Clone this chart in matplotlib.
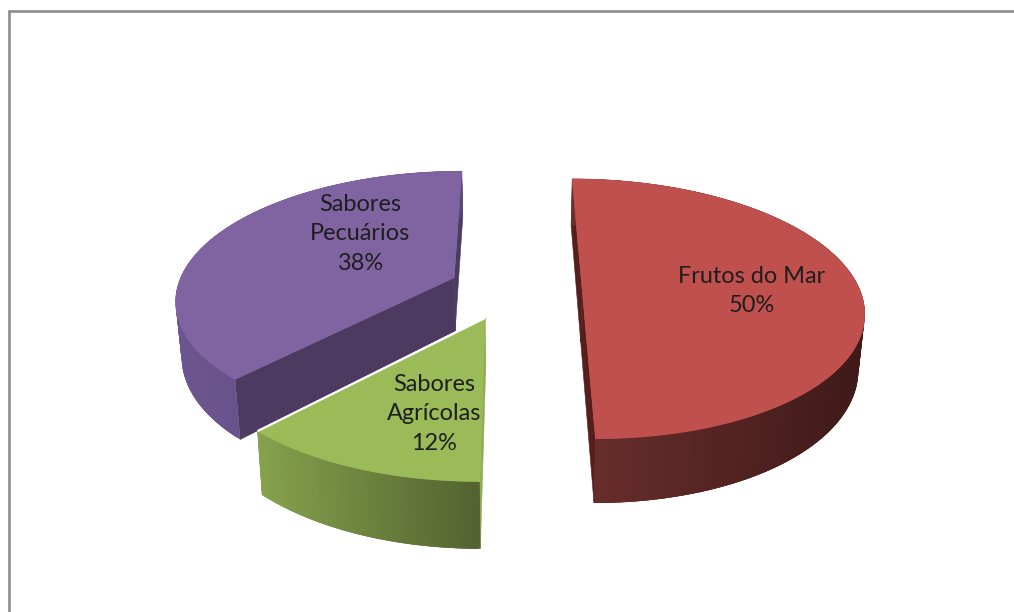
import numpy as np
import matplotlib
matplotlib.use("Agg")
import matplotlib.pyplot as plt
from matplotlib.patches import Polygon
from matplotlib.colors import to_rgb

categories = ["Frutos do Mar", "Sabores\nAgrícolas", "Sabores\nPecuários"]
values = [50, 12, 38]

top_colors = ["#C0504D", "#9BBB59", "#8064A2"]
rim_left = ["#6B2F2D", "#86A24D", "#6D5690"]
rim_right = ["#3F1A18", "#53622F", "#5A4676"]
cut_colors = ["#561F1E", "#8FAC52", "#4D3A60"]
explode = [71, 68, 62]
label_pos = [(752, 291), (434, 414), (360, 234)]

# projection settings, in pixels
VX, CY = 511, 288
RADIUS = 277
TILT = 0.457
PERSP = 0.16
DEPTH = 54
SHRINK = 0.982


def project(x, y, lower=False):
    # perspective map of the pie plane onto the page
    w = 1 + PERSP * np.asarray(y) / RADIUS
    sx = np.asarray(x) / w
    sy = CY - TILT * np.asarray(y) / w
    if lower:
        sx = sx * SHRINK
        sy = sy + DEPTH / w
    return VX + sx, sy


def mix(c1, c2, t):
    a, b = np.array(to_rgb(c1)), np.array(to_rgb(c2))
    return tuple(a + (b - a) * np.clip(t, 0, 1))


fig = plt.figure(figsize=(10.14, 6.12), dpi=100)
ax = fig.add_axes([0, 0, 1, 1])
ax.set_xlim(0, 1014)
ax.set_ylim(612, 0)
ax.axis("off")

# frame runs off the right and bottom edges
ax.plot([8.5, 8.5, 1014], [612, 10.5, 10.5], color="#8C8C8C", lw=1.9, solid_joinstyle="miter")

edges = np.cumsum([0] + values) / sum(values) * 2 * np.pi

for i in [2, 1, 0]:
    a0, a1 = edges[i], edges[i + 1]
    mid = (a0 + a1) / 2
    ox, oy = explode[i] * np.sin(mid), explode[i] * np.cos(mid)
    t = np.linspace(a0, a1, 160)
    x = ox + RADIUS * np.sin(t)
    y = oy + RADIUS * np.cos(t)

    # the two cut faces
    for a in (a0, a1):
        ex = np.linspace(ox, ox + RADIUS * np.sin(a), 40)
        ey = np.linspace(oy, oy + RADIUS * np.cos(a), 40)
        ux, uy = project(ex, ey)
        lx, ly = project(ex, ey, lower=True)
        ax.add_patch(Polygon(np.r_[np.c_[ux, uy], np.c_[lx, ly][::-1]], closed=True,
                             fc=cut_colors[i], ec=cut_colors[i], lw=0.4))

    # outer rim, shaded left to right; quads overlap so no seams show
    ux, uy = project(x, y)
    lx, ly = project(x, y, lower=True)
    for j in range(len(t) - 1):
        k = min(j + 3, len(t) - 1)
        f = (ux[j] - ux.min()) / (ux.max() - ux.min())
        col = mix(rim_left[i], rim_right[i], f)
        quad = np.r_[np.c_[ux[j:k + 1], uy[j:k + 1]], np.c_[lx[j:k + 1], ly[j:k + 1]][::-1]]
        ax.add_patch(Polygon(quad, closed=True, fc=col, ec="none"))

    # top face
    ax_, ay_ = project(ox, oy)
    top = np.r_[[[float(ax_), float(ay_)]], np.c_[ux, uy]]
    ax.add_patch(Polygon(top, closed=True, fc=top_colors[i], ec=top_colors[i], lw=0.4))

    # white seam where the slice sits over its neighbour
    if i == 1:
        sx, sy = project(np.array([ox, x[-1]]), np.array([oy, y[-1]]))
        ax.plot(sx, sy, color="white", lw=1.6, solid_capstyle="butt")

for cat, val, (px, py) in zip(categories, values, label_pos):
    ax.text(px, py, f"{cat}\n{val}%", ha="center", va="center", fontsize=16.9,
            family="Lato", color="#1E1E1E", linespacing=1.49)

fig.savefig("out.png", dpi=100)
